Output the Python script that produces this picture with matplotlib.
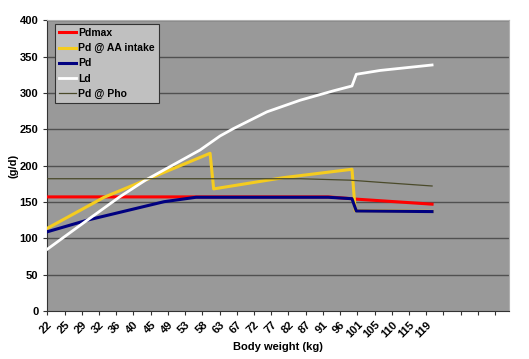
import numpy as np
import matplotlib
matplotlib.use("Agg")
import matplotlib.pyplot as plt

plt.rc('font', family='Liberation Sans', weight='bold', size=8)

# category labels on the x axis (body weight, kg); extra ticks have no label
weights = ['22', '25', '29', '32', '36', '40', '45', '49', '53', '58', '63', '67',
           '72', '77', '82', '87', '91', '96', '101', '105', '110', '115', '119']
n_ticks = 27

# series: (category position, g/d)
pdmax_x = [0, 16.31, 17.69, 17.88, 22.34]
pdmax_y = [157, 157, 154.5, 154, 147]

pdaa_x = [0, 3.3, 5.72, 9.45, 9.66, 13.72, 17.69, 17.88, 22.34]
pdaa_y = [113.8, 156.5, 180.3, 217, 168, 183.5, 195, 138, 137]

pd_x = [0, 2.32, 6.78, 8.64, 16.31, 17.69, 17.94, 22.34]
pd_y = [109, 125, 150.4, 156.5, 156.5, 154.5, 137.6, 136.8]

ld_x = [0, 2.32, 4.17, 5.72, 8.87, 10.03, 10.81, 12.75, 14.68, 16.62, 17.69, 17.94, 19.33, 22.34]
ld_y = [85, 125, 156.5, 180.3, 221.5, 240.8, 251, 274, 290, 303, 309.6, 325.7, 331, 338.5]

pdpho_x = [0, 14.68, 17.59, 19.33, 22.34]
pdpho_y = [182, 182, 180, 177, 172]

fig = plt.figure(figsize=(5.29, 3.59), dpi=100)
ax = fig.add_axes([0.0894, 0.1337, 0.8726, 0.8098])
ax.set_facecolor('#999999')

for yv in range(50, 401, 50):
    ax.axhline(yv, color='#505050', lw=1.0, zorder=1)

ax.plot(pdmax_x, pdmax_y, color='#ff0000', lw=2.2, label='Pdmax', zorder=3)
ax.plot(pdaa_x, pdaa_y, color='#f5cc1f', lw=2.2, label='Pd @ AA intake', zorder=3)
ax.plot(pd_x, pd_y, color='#000080', lw=2.2, label='Pd', zorder=3)
ax.plot(ld_x, ld_y, color='white', lw=2.0, label='Ld', zorder=3)
ax.plot(pdpho_x, pdpho_y, color='#4a4a2a', lw=0.9, label='Pd @ Pho', zorder=3)

ax.set_xlim(0, 26.8)
ax.set_ylim(0, 400)
ax.set_yticks(np.arange(0, 401, 50))
ax.set_xticks(np.arange(n_ticks))
ax.set_xticklabels(weights + [''] * (n_ticks - len(weights)), rotation=45,
                   ha='right', va='top', rotation_mode='anchor')
ax.tick_params(axis='both', direction='out', length=3, width=0.8, colors='#333333',
               labelcolor='black', labelsize=8)
ax.tick_params(axis='x', pad=3)

for s in ['top', 'right']:
    ax.spines[s].set_color('#b0b0b0')
    ax.spines[s].set_linewidth(0.8)
for s in ['left', 'bottom']:
    ax.spines[s].set_color('#333333')
    ax.spines[s].set_linewidth(0.8)

ax.set_xlabel('Body weight (kg)', fontsize=8, fontweight='bold', labelpad=2)
ax.set_ylabel('(g/d)', fontsize=8, fontweight='bold', labelpad=1)

leg = ax.legend(loc='upper left', bbox_to_anchor=(0.017, 0.988), borderaxespad=0,
                fancybox=False, framealpha=1, facecolor='#c0c0c0', edgecolor='#333333',
                handlelength=1.6, handletextpad=0.2, labelspacing=0.5,
                borderpad=0.4, fontsize=7.5)
leg.get_frame().set_linewidth(0.8)

fig.savefig('out.png', dpi=100, facecolor='white')
